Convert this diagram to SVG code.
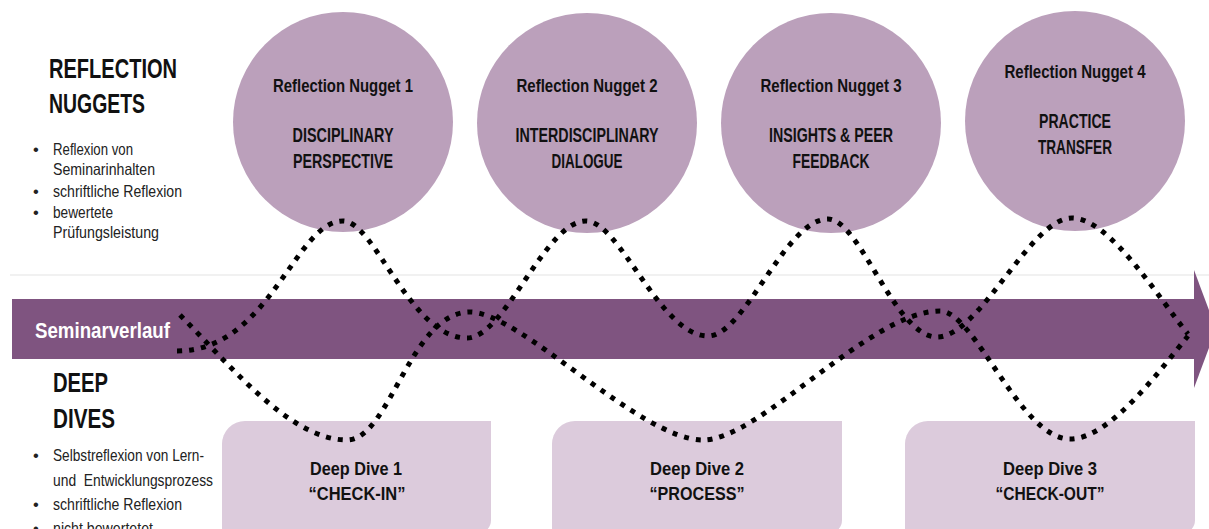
<svg xmlns="http://www.w3.org/2000/svg" width="1209" height="529" viewBox="0 0 1209 529">
<style>
.nug{fill:#bba0bb}
.box{fill:#dccbdc}
.t{font-family:"Liberation Sans Narrow","Liberation Sans",Arial,sans-serif;font-weight:bold;fill:#111;text-anchor:middle}
.h{font-family:"Liberation Sans Narrow","Liberation Sans",Arial,sans-serif;font-weight:bold;fill:#111;font-size:28px}
.b{font-family:"Liberation Sans Narrow","Liberation Sans",Arial,sans-serif;fill:#222;font-size:16.5px}
.dot{fill:none;stroke:#000;stroke-width:5;stroke-dasharray:5 7}
</style>
<rect width="1209" height="529" fill="#fff"/>
<line x1="10" y1="275" x2="1209" y2="275" stroke="#ececec" stroke-width="1.5"/>
<g id="timeline">
<rect x="12" y="299" width="1182" height="60" fill="#7f5480"/>
<polygon points="1194,270 1216,329 1194,388" fill="#7f5480"/>
<text x="35" y="338" font-family="'Liberation Sans Narrow','Liberation Sans',Arial,sans-serif" font-weight="bold" font-size="22" fill="#fff" textLength="135" lengthAdjust="spacingAndGlyphs">Seminarverlauf</text>
</g>
<g id="legend-nuggets">
<text class="h" x="49" y="78" textLength="128" lengthAdjust="spacingAndGlyphs">REFLECTION</text>
<text class="h" x="49" y="113" textLength="96" lengthAdjust="spacingAndGlyphs">NUGGETS</text>
<text class="b" x="33" y="155">•</text>
<text class="b" x="53" y="155" textLength="80" lengthAdjust="spacingAndGlyphs">Reflexion von</text>
<text class="b" x="53" y="175" textLength="102" lengthAdjust="spacingAndGlyphs">Seminarinhalten</text>
<text class="b" x="33" y="197">•</text>
<text class="b" x="53" y="197" textLength="129" lengthAdjust="spacingAndGlyphs">schriftliche Reflexion</text>
<text class="b" x="33" y="218">•</text>
<text class="b" x="53" y="218" textLength="60" lengthAdjust="spacingAndGlyphs">bewertete</text>
<text class="b" x="53" y="238" textLength="106" lengthAdjust="spacingAndGlyphs">Prüfungsleistung</text>
</g>
<g id="legend-dives">
<text class="h" x="53" y="392" textLength="55" lengthAdjust="spacingAndGlyphs">DEEP</text>
<text class="h" x="53" y="428" textLength="62" lengthAdjust="spacingAndGlyphs">DIVES</text>
<text class="b" x="33" y="461">•</text>
<text class="b" x="53" y="461" textLength="151" lengthAdjust="spacingAndGlyphs">Selbstreflexion von Lern-</text>
<text class="b" x="53" y="486" textLength="160" lengthAdjust="spacingAndGlyphs" xml:space="preserve">und  Entwicklungsprozess</text>
<text class="b" x="33" y="510">•</text>
<text class="b" x="53" y="510" textLength="129" lengthAdjust="spacingAndGlyphs">schriftliche Reflexion</text>
<text class="b" x="33" y="534">•</text>
<text class="b" x="53" y="534" textLength="100" lengthAdjust="spacingAndGlyphs">nicht bewertetet</text>
</g>
<g id="nugget1">
<circle class="nug" cx="343" cy="122" r="110"/>
<text class="t" x="343" y="92" font-size="18.5" textLength="140" lengthAdjust="spacingAndGlyphs">Reflection Nugget 1</text>
<text class="t" x="343" y="142" font-size="20.5" textLength="101" lengthAdjust="spacingAndGlyphs">DISCIPLINARY</text>
<text class="t" x="343" y="168" font-size="20.5" textLength="100" lengthAdjust="spacingAndGlyphs">PERSPECTIVE</text>
</g>
<g id="nugget2">
<circle class="nug" cx="587" cy="123" r="110"/>
<text class="t" x="587" y="92" font-size="18.5" textLength="141" lengthAdjust="spacingAndGlyphs">Reflection Nugget 2</text>
<text class="t" x="587" y="142" font-size="20.5" textLength="143" lengthAdjust="spacingAndGlyphs">INTERDISCIPLINARY</text>
<text class="t" x="587" y="168" font-size="20.5" textLength="71" lengthAdjust="spacingAndGlyphs">DIALOGUE</text>
</g>
<g id="nugget3">
<circle class="nug" cx="831" cy="123" r="110"/>
<text class="t" x="831" y="92" font-size="18.5" textLength="141" lengthAdjust="spacingAndGlyphs">Reflection Nugget 3</text>
<text class="t" x="831" y="142" font-size="20.5" textLength="124" lengthAdjust="spacingAndGlyphs">INSIGHTS &amp; PEER</text>
<text class="t" x="831" y="168" font-size="20.5" textLength="77" lengthAdjust="spacingAndGlyphs">FEEDBACK</text>
</g>
<g id="nugget4">
<circle class="nug" cx="1075" cy="121" r="110"/>
<text class="t" x="1075" y="78" font-size="18.5" textLength="141" lengthAdjust="spacingAndGlyphs">Reflection Nugget 4</text>
<text class="t" x="1075" y="128" font-size="20.5" textLength="72" lengthAdjust="spacingAndGlyphs">PRACTICE</text>
<text class="t" x="1075" y="154" font-size="20.5" textLength="74" lengthAdjust="spacingAndGlyphs">TRANSFER</text>
</g>
<g id="dive1">
<path class="box" d="M222,444 A23,23 0 0 1 245,421 H491 V520 A14,14 0 0 1 477,534 H222 Z"/>
<text class="t" x="356" y="475" font-size="18.5" textLength="92" lengthAdjust="spacingAndGlyphs">Deep Dive 1</text>
<text class="t" x="357" y="500" font-size="18.5" textLength="97" lengthAdjust="spacingAndGlyphs">“CHECK-IN”</text>
</g>
<g id="dive2">
<path class="box" d="M552,444 A23,23 0 0 1 575,421 H842 V520 A14,14 0 0 1 828,534 H552 Z"/>
<text class="t" x="697" y="475" font-size="18.5" textLength="94" lengthAdjust="spacingAndGlyphs">Deep Dive 2</text>
<text class="t" x="697" y="500" font-size="18.5" textLength="95" lengthAdjust="spacingAndGlyphs">“PROCESS”</text>
</g>
<g id="dive3">
<path class="box" d="M905,444 A23,23 0 0 1 928,421 H1195 V520 A14,14 0 0 1 1181,534 H905 Z"/>
<text class="t" x="1050" y="475" font-size="18.5" textLength="94" lengthAdjust="spacingAndGlyphs">Deep Dive 3</text>
<text class="t" x="1050" y="500" font-size="18.5" textLength="109" lengthAdjust="spacingAndGlyphs">“CHECK-OUT”</text>
</g>
<g id="connectors">
<path class="dot" d="M177,351 C270,351 295,221 343,221 C375,221 410,338 467,338 C505,338 545,221 586,221 C620,221 660,336 708,336 C745,336 785,219 828,219 C860,219 895,337 937,337 C980,337 1030,218 1072,218 C1110,218 1160,300 1188,334"/>
<path class="dot" d="M180,315 C230,365 290,440 347,440 C390,440 410,312 470,312 C520,312 640,440 703,440 C760,440 870,311 940,311 C975,311 1020,439 1070,439 C1110,439 1160,370 1188,336"/>
</g>
</svg>
